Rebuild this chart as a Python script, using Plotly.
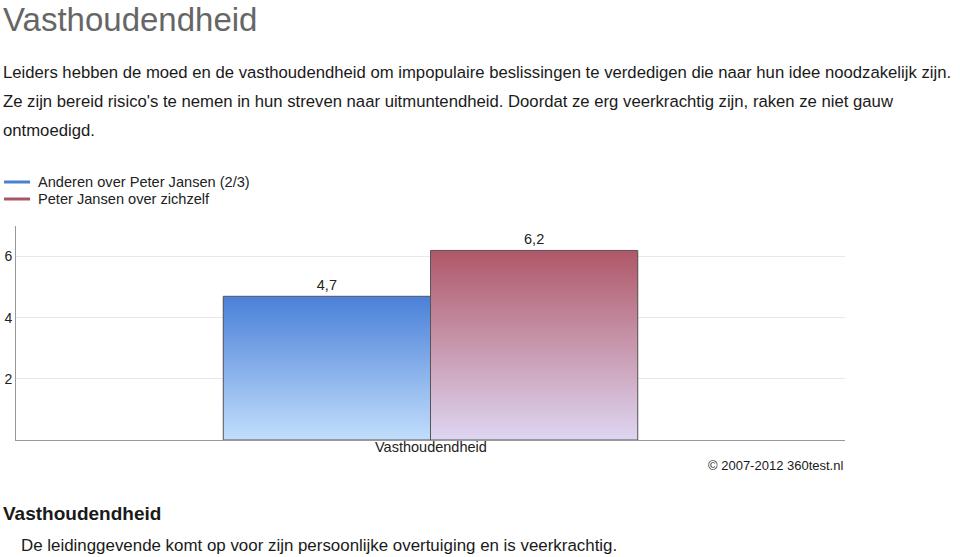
import plotly.graph_objects as go

# ---- data ----
categories = ["Vasthoudendheid"]
series_names = ["Anderen over Peter Jansen (2/3)", "Peter Jansen over zichzelf"]
series_values = [[4.7], [6.2]]
y_ticks = [2, 4, 6]

title_text = "Vasthoudendheid"
desc_lines = [
    "Leiders hebben de moed en de vasthoudendheid om impopulaire beslissingen te verdedigen die naar hun idee noodzakelijk zijn.",
    "Ze zijn bereid risico's te nemen in hun streven naar uitmuntendheid. Doordat ze erg veerkrachtig zijn, raken ze niet gauw",
    "ontmoedigd.",
]
footer_title = "Vasthoudendheid"
footer_text = "De leidinggevende komt op voor zijn persoonlijke overtuiging en is veerkrachtig."
copyright_text = "© 2007-2012 360test.nl"

# ---- styles ----
W, H = 960, 557
PL, PR, PT, PB = 16, 845, 226, 440  # plot area in pixels
FONT = "Liberation Sans, Arial, sans-serif"
grad_top = [(74, 128, 216), (176, 88, 104)]
grad_bottom = [(194, 222, 252), (222, 214, 242)]
legend_colors = ["#4a80d0", "#a85566"]
NSEG = 80


def px_x(px):
    return (px - PL) / (PR - PL)


def px_y(py):
    return (PB - py) / (PB - PT)


def lerp(c0, c1, t):
    return "rgb(%d,%d,%d)" % tuple(round(a + (b - a) * t) for a, b in zip(c0, c1))


fig = go.Figure()

for si, (name, vals) in enumerate(zip(series_names, series_values)):
    # gradient fill: overlapping bars from the tallest (top colour) down to the shortest
    for k in range(NSEG - 1, -1, -1):
        t = (k + 0.5) / NSEG
        fig.add_trace(go.Bar(
            x=categories,
            y=[v * (k + 1) / NSEG for v in vals],
            offsetgroup=str(si),
            marker=dict(color=lerp(grad_bottom[si], grad_top[si], t), line=dict(width=0)),
            showlegend=False,
            hoverinfo="skip",
        ))
    # outline + value label
    fig.add_trace(go.Bar(
        x=categories,
        y=vals,
        offsetgroup=str(si),
        marker=dict(color="rgba(0,0,0,0)", line=dict(color="#555555", width=1)),
        texttemplate="%{y:.1f}",
        textposition="outside",
        textfont=dict(family=FONT, size=14.5, color="#222222"),
        cliponaxis=False,
        showlegend=False,
        name=name,
    ))

annotations = []
shapes = []


def add_text(text, px, py, size, color="#1a1a1a", xanchor="left", bold=False):
    if bold:
        text = "<b>" + text + "</b>"
    annotations.append(dict(
        text=text, x=px_x(px), y=px_y(py), xref="paper", yref="paper",
        xanchor=xanchor, yanchor="middle", showarrow=False,
        font=dict(family=FONT, size=size, color=color),
    ))


add_text(title_text, 1, 19, 33, color="#666666")
for i, line in enumerate(desc_lines):
    add_text(line, 1, 72 + 29 * i, 16.7)
add_text(copyright_text, 845, 465, 13, xanchor="right")
add_text(footer_title, 1, 513, 19, bold=True)
add_text(footer_text, 19, 545, 16.9)

# legend (line symbols + labels)
for si, name in enumerate(series_names):
    ly = 182 + 17 * si
    shapes.append(dict(
        type="line", xref="paper", yref="paper",
        x0=px_x(4), x1=px_x(30), y0=px_y(ly), y1=px_y(ly),
        line=dict(color=legend_colors[si], width=3),
    ))
    add_text(name, 36, ly, 14.6, color="#222222")

# category label under the axis
annotations.append(dict(
    text=categories[0], x=categories[0], xref="x", y=px_y(447), yref="paper",
    xanchor="center", yanchor="middle", showarrow=False,
    font=dict(family=FONT, size=14.5, color="#222222"),
))

fig.update_layout(
    width=W, height=H,
    margin=dict(l=PL, r=W - PR, t=PT, b=H - PB, pad=0),
    paper_bgcolor="white", plot_bgcolor="white",
    barmode="group", bargap=0.5, bargroupgap=0,
    separators=",.",
    font=dict(family=FONT, size=14, color="#222222"),
    showlegend=False,
    annotations=annotations,
    shapes=shapes,
    xaxis=dict(
        showline=True, linecolor="#999999", linewidth=1,
        showgrid=False, ticks="", showticklabels=False,
        automargin=False, fixedrange=True,
    ),
    yaxis=dict(
        range=[0, 7], tickvals=y_ticks, showline=True, linecolor="#999999", linewidth=1,
        gridcolor="#e8e8e8", zeroline=False, ticks="",
        tickfont=dict(family=FONT, size=14, color="#222222"),
        automargin=False, fixedrange=True,
    ),
)

fig.write_html("out.html")
